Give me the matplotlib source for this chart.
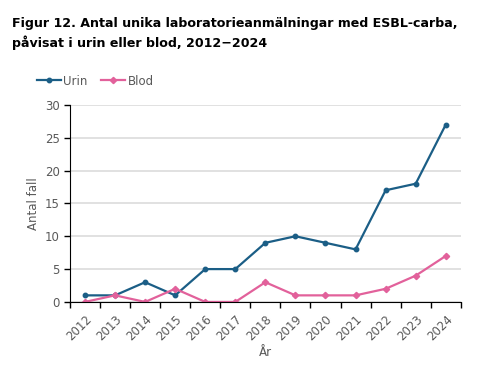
import numpy as np
import matplotlib.pyplot as plt

years = ['2012', '2013', '2014', '2015', '2016', '2017', '2018',
         '2019', '2020', '2021', '2022', '2023', '2024']
urin = [1, 1, 3, 1, 5, 5, 9, 10, 9, 8, 17, 18, 27]
blod = [0, 1, 0, 2, 0, 0, 3, 1, 1, 1, 2, 4, 7]

URIN_COLOR = '#1b5e86'
BLOD_COLOR = '#e2619b'
TEXT_COLOR = '#595959'

fig = plt.figure(figsize=(4.79, 3.76), dpi=100)
ax = fig.add_axes([0.146, 0.197, 0.816, 0.524])

x = np.arange(len(years))
ax.plot(x, urin, color=URIN_COLOR, lw=1.6, marker='o', ms=3.2, label='Urin')
ax.plot(x, blod, color=BLOD_COLOR, lw=1.6, marker='D', ms=3.2, label='Blod')

ax.set_xlim(-0.5, len(years) - 0.5)
ax.set_ylim(0, 30)
ax.set_yticks(range(0, 31, 5))
ax.set_xticks(x)
ax.set_xticklabels(years, rotation=45, ha='right', rotation_mode='anchor')
ax.set_xticks(np.arange(-0.5, len(years), 1), minor=True)
ax.tick_params(axis='x', which='major', length=0, pad=8, labelsize=8.5, labelcolor=TEXT_COLOR)
ax.tick_params(axis='x', which='minor', length=4, width=1, color='black')
ax.tick_params(axis='y', length=4, width=1, labelsize=8.5, labelcolor=TEXT_COLOR)

ax.grid(axis='y', color='#dcdcdc', lw=1.2)
ax.set_axisbelow(True)
for s in ['top', 'right']:
    ax.spines[s].set_visible(False)
ax.spines['left'].set_color('black')
ax.spines['bottom'].set_color('black')

ax.set_ylabel('Antal fall', fontsize=8.5, color=TEXT_COLOR, labelpad=3)
ax.set_xlabel('År', fontsize=8.5, color=TEXT_COLOR, labelpad=2)

fig.text(0.025, 0.955, 'Figur 12. Antal unika laboratorieanmälningar med ESBL-carba,\npåvisat i urin eller blod, 2012\u22122024',
         fontsize=9.1, fontweight='bold', va='top', ha='left', linespacing=1.45)

fig.legend(loc='upper left', bbox_to_anchor=(0.055, 0.83), ncol=2, frameon=False,
           fontsize=8.5, labelcolor=TEXT_COLOR, handlelength=2.0, handletextpad=0.2,
           columnspacing=1.2)

plt.savefig('out.png', dpi=100)
